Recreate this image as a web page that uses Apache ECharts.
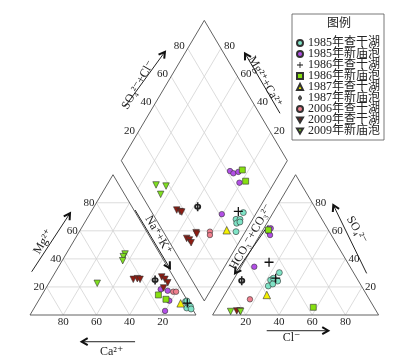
<!DOCTYPE html>
<html><head><meta charset="utf-8">
<script src="https://cdn.jsdelivr.net/npm/echarts@6/dist/echarts.min.js"></script>
<style>html,body{margin:0;padding:0;background:#fff}#c{width:410px;height:358px}</style>
</head><body><div id="c"></div>
<script>
// ---------------- DATA (percent values) ----------------
// cation triangle: [Mg2+, Na+ + K+]  (Ca2+ = 100 - Mg - NaK)
// anion triangle:  [SO4 2-, Cl-]     (HCO3+CO3 = 100 - SO4 - Cl)
// diamond:         [Na+ + K+, SO4 2- + Cl-]
const seriesNames = ['1985年查干湖','1985年新庙泡','1986年查干湖','1986年新庙泡','1987年查干湖','1987年新庙泡','2006年查干湖','2009年查干湖','2009年新庙泡'];

const cat1985C = [[9.6,88.9],[7.5,91.6],[6.1,93.6],[5.0,91.9],[4.3,94.9],[10,89.5]];
const an1985C  = [[30.2,25.1],[24.9,22.5],[26.2,23.5],[24.2,27.1],[20.7,23.2],[22.1,25.2]];
const dia1985C = [[92,55],[90,48.2],[92.4,50.6],[91.8,47.2],[94.4,43.8],[93.3,49.6]];

const cat1985X = [[18.3,69.6],[17.3,74.3],[10.2,78.8],[2.9,79.9]];
const an1985X  = [[34.4,7.9],[59.4,3.9],[61.8,4.1],[57.0,6.1]];
const dia1985X = [[69.2,61.8],[72,63],[74.5,66.5],[79,63.3],[79.6,41.5]];

const cat1986C = [[8.5,90.5]];
const an1986C  = [[37.6,15.2],[26.2,24.9]];
const dia1986C = [[88.6,52.4]];

const cat1986X = [[14.3,70.2],[11.2,76.3]];
const an1986X  = [[60.6,3.3],[5.5,57.9]];
const dia1986X = [[76.2,69.6],[82.2,67.6]];

const cat1987C = [[8.3,86.6]];
const an1987C  = [[14.3,25.5]];
const dia1987C = [[88.3,38.7]];

const cat1987X = [[24.9,62.9]];
const an1987X  = [[24.5,5.3]];
const dia1987X = [[62.4,29.6]];

const cat2006C = [[16.6,78.0],[16.6,79.7]];
const an2006C  = [[11.2,16.9]];
const dia2006C = [[78.7,28.1],[79.9,26.9]];

const cat2009C = [[27.1,65.8],[25.4,68.6],[23.0,71.5],[25.4,49.5],[25.9,51.7],[25.4,53.6],[19.3,70.8]];
const an2009C  = [[2.9,13.1],[2.9,15.1]];
const dia2009C = [[51,15.8],[53.6,17.3],[54.7,18.1],[70.7,19.4],[71.6,19.3],[67.1,11.7],[69.3,12.8],[71.3,12.8]];

const cat2009X = [[43.5,35.5],[41.6,35.4],[38.7,36.5],[22.6,29.2]];
const an2009X  = [[2.5,9.6],[2.5,15.6]];
const dia2009X = [[29.6,12.3],[36,17.9],[35.7,11.7]];

const tickValues = [20,40,60,80];

// ---------------- GEOMETRY ----------------
const H = Math.sqrt(3)/2, GAP = 10;
const catXY = ([mg, nak]) => [nak + mg/2, mg*H];
const anXY  = ([so4, cl]) => [100 + GAP + cl + so4/2, so4*H];
const diaXY = ([nak, sc]) => [100 + GAP/2 + 0.5*(nak+sc-100), GAP/2*Math.sqrt(3) + H*(100-nak+sc)];

const SERIF = "'Liberation Serif','DejaVu Serif','Noto Sans CJK SC',serif";
const invTri = 'path://M0,0 L10,0 L5,8.7 Z';
const crossSym = 'path://M-0.7,-5 L0.7,-5 L0.7,-0.7 L5,-0.7 L5,0.7 L0.7,0.7 L0.7,5 L-0.7,5 L-0.7,0.7 L-5,0.7 L-5,-0.7 L-0.7,-0.7 Z';
const phiSym = 'path://M0,-3 A3,3 0 1,1 0,3 A3,3 0 1,1 0,-3 Z M0,-1.4 A1.4,1.4 0 1,0 0,1.4 A1.4,1.4 0 1,0 0,-1.4 Z M-0.7,-4.6 L0.7,-4.6 L0.7,4.6 L-0.7,4.6 Z';

const groups = [
  {cat:cat1985C, an:an1985C, dia:dia1985C, symbol:'circle', size:6, color:'#7fe3c6', bw:0.6},
  {cat:cat1985X, an:an1985X, dia:dia1985X, symbol:'circle', size:5.5, color:'#b24fe6', bw:0.6},
  {cat:cat1986C, an:an1986C, dia:dia1986C, symbol:crossSym, size:9, color:'#111', bw:0},
  {cat:cat1986X, an:an1986X, dia:dia1986X, symbol:'rect', size:6, color:'#86e010', bw:0.6},
  {cat:cat1987C, an:an1987C, dia:dia1987C, symbol:'triangle', size:7.5, color:'#f4f000', bw:0.6},
  {cat:cat1987X, an:an1987X, dia:dia1987X, symbol:phiSym, size:[7,9], color:'#222', bw:0},
  {cat:cat2006C, an:an2006C, dia:dia2006C, symbol:'circle', size:5.5, color:'#ef7f8e', bw:0.6},
  {cat:cat2009C, an:an2009C, dia:dia2009C, symbol:invTri, size:6.5, color:'#8e1c12', bw:0.6},
  {cat:cat2009X, an:an2009X, dia:dia2009X, symbol:invTri, size:6.5, color:'#80e020', bw:0.6}
];

// ---------------- DECORATION (frame, grid, labels, arrows) ----------------
const items = [];
const seg = (a,b,c,w) => items.push({k:'seg',a,b,c,w});
const txt = (p,t,o) => items.push(Object.assign({k:'txt',p,t,align:'center',va:'middle',dx:0,dy:0,rot:0,fs:11},o));
const arrow = (a,b) => items.push({k:'arrow',a,b});
const GRID = '#d3d3d3', FRAME = '#505050';

tickValues.forEach(k => {
  if (k < 80) seg([k/2, k*H], [200 + GAP - k/2, k*H], GRID, 0.8);
  else { seg([k/2,k*H],[100-k/2,k*H],GRID,0.8); seg([110+k/2,k*H],[210-k/2,k*H],GRID,0.8); }
});
[0, 100+GAP].forEach(ox => {
  tickValues.forEach(k => {
    seg([ox+k,0],[ox+k/2,k*H],GRID,0.8);
    seg([ox+k,0],[ox+(100+k)/2,(100-k)*H],GRID,0.8);
  });
});
tickValues.forEach(k => {
  seg(diaXY([k,0]), diaXY([k,100]), GRID, 0.8);
  seg(diaXY([0,k]), diaXY([100,k]), GRID, 0.8);
});
[0, 100+GAP].forEach(ox => {
  seg([ox,0],[ox+100,0],FRAME,0.9); seg([ox,0],[ox+50,100*H],FRAME,0.9); seg([ox+100,0],[ox+50,100*H],FRAME,0.9);
});
seg(diaXY([100,0]), diaXY([0,0]), FRAME, 0.9);
seg(diaXY([0,0]), diaXY([0,100]), FRAME, 0.9);
seg(diaXY([0,100]), diaXY([100,100]), FRAME, 0.9);
seg(diaXY([100,100]), diaXY([100,0]), FRAME, 0.9);

tickValues.forEach(k => {
  txt([k/2,k*H], String(k), {align:'right', dx:-2});
  txt([k,0], String(100-k), {va:'top', dy:2});
  txt([110+k,0], String(k), {va:'top', dy:2});
  txt([210-k/2,k*H], String(k), {align:'left', dx:3});
  txt(diaXY([0,k]), String(k), {align:'right', dx:-3, dy:-2});
  txt(diaXY([100-k,100]), String(k), {align:'left', dx:3, dy:-2});
});

const D60 = Math.PI/3;
arrow([1.0,26.7],[24.1,62.8]);   txt([8.0,45.2],'Mg²⁺',{fs:12, rot:D60});
arrow([63.3,-16.5],[31.1,-16.5]); txt([49.2,-22.6],'Ca²⁺',{fs:12});
arrow([142.6,-9.7],[179.7,-9.7]); txt([157.6,-14.4],'Cl⁻',{fs:12});
arrow([202.8,25.7],[182.7,67.9]); txt([196.8,52.5],'SO₄²⁻',{fs:12, rot:-D60});
arrow([57.2,128.6],[81.3,162.5]); txt([65.2,142.0],'SO₄²⁻+Cl⁻',{fs:12, rot:D60});
arrow([150.6,124.5],[129.5,161.5]); txt([141.6,144.0],'Mg²⁺+Ca²⁺',{fs:12, rot:-D60});
arrow([63.3,64.8],[84.3,28.8]);   txt([77.3,49.4],'Na⁺+K⁺',{fs:12, rot:-D60});
arrow([143.6,55.6],[123.5,25.7]); txt([133.1,48.1],'HCO₃⁻+CO₃²⁻',{fs:12, rot:D60});

function renderItem(params, api){
  const it = items[params.dataIndex];
  if (it.k === 'seg') {
    const p1 = api.coord(it.a), p2 = api.coord(it.b);
    return {type:'line', shape:{x1:p1[0],y1:p1[1],x2:p2[0],y2:p2[1]}, style:{stroke:it.c, lineWidth:it.w}};
  }
  if (it.k === 'txt') {
    const p = api.coord(it.p);
    return {type:'text', x:p[0]+it.dx, y:p[1]+it.dy, rotation:it.rot,
      style:{text:it.t, font:it.fs+'px '+SERIF, fill:'#222', align:it.align, verticalAlign:it.va, textAlign:it.align, textVerticalAlign:it.va}};
  }
  const p1 = api.coord(it.a), p2 = api.coord(it.b);
  const ang = Math.atan2(p2[1]-p1[1], p2[0]-p1[0]);
  const L = 7, A = Math.PI/6;
  const h1 = [p2[0]-L*Math.cos(ang-A), p2[1]-L*Math.sin(ang-A)];
  const h2 = [p2[0]-L*Math.cos(ang+A), p2[1]-L*Math.sin(ang+A)];
  return {type:'group', children:[
    {type:'line', shape:{x1:p1[0],y1:p1[1],x2:p2[0],y2:p2[1]}, style:{stroke:'#222', lineWidth:1}},
    {type:'polyline', shape:{points:[h1,p2,h2]}, style:{stroke:'#111', lineWidth:2, fill:null}}
  ]};
}

const series = [{
  type:'custom', name:'frame', renderItem, silent:true, clip:false, z:1,
  data: items.map(it => (it.a || it.p).slice())
}];
groups.forEach((g,i) => {
  series.push({
    type:'scatter', name:seriesNames[i], silent:true, z:3,
    symbol:g.symbol, symbolSize:g.size,
    itemStyle:{color:g.color, borderColor:'#333', borderWidth:g.bw, opacity:1},
    data:[...g.cat.map(catXY), ...g.an.map(anXY), ...g.dia.map(diaXY)]
  });
});

const chart = echarts.init(document.getElementById('c'), null, {renderer:'canvas'});
chart.setOption({
  animation:false,
  backgroundColor:'#fff',
  grid:{left:0,right:0,top:0,bottom:0},
  xAxis:{type:'value', min:-30/1.66, max:380/1.66, show:false},
  yAxis:{type:'value', min:-43/1.62, max:315/1.62, show:false},
  title:{text:'图例', left:327, top:18, padding:0, textStyle:{fontSize:12, fontWeight:'normal', fontFamily:SERIF, color:'#222'}},
  legend:{
    data:seriesNames, orient:'vertical', left:292, top:14,
    padding:[23,4,3,4], itemGap:-1, itemWidth:6, itemHeight:6,
    borderColor:'#555', borderWidth:0.8,
    textStyle:{fontSize:12, lineHeight:11, fontFamily:SERIF, color:'#222'},
    selectedMode:false
  },
  series
});
</script></body></html>
